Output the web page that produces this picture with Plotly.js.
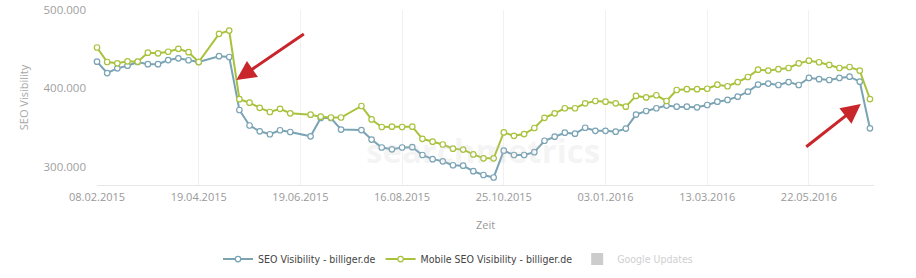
<!DOCTYPE html>
<html>
<head>
<meta charset="utf-8">
<script src="https://cdn.plot.ly/plotly-3.0.1.min.js"></script>
<style>
  html, body { margin: 0; padding: 0; background: #ffffff; }
  #chart { width: 916px; height: 278px; }
</style>
</head>
<body>
<div id="chart"></div>
<script>
// Week index (category position); indices 11, 20 and 25 have no data point
const weekIndex = [0,1,2,3,4,5,6,7,8,9,10,12,13,14,15,16,17,18,19,21,22,23,24,26,27,28,29,30,31,32,33,34,35,36,37,38,39,40,41,42,43,44,45,46,47,48,49,50,51,52,53,54,55,56,57,58,59,60,61,62,63,64,65,66,67,68,69,70,71,72,73,74,75,76];

// SEO Visibility - billiger.de (thousands)
const seoVisibility = [434,419.5,425.5,428.9,433.6,430.8,430.8,436.1,438.3,435.8,433.6,441,440,372.3,352.5,345.1,341.3,346.4,344.2,338.7,362.1,362.1,347.3,346.7,334.5,324.4,322.1,324.4,324.8,314.8,309.5,306.8,301.7,301.2,294.1,289.3,286.1,320.3,314.8,314.8,318.4,333,338.2,343.3,342,349.6,345.7,345.7,344.6,348.5,366.4,371,374.5,378,376.5,376.5,375.7,378.7,382.9,385.1,389.3,395.7,404.7,406,404.2,408,404.2,413.2,411.6,410.6,413.2,414.8,408.4,348.9];

// Mobile SEO Visibility - billiger.de (thousands)
const mobileSeoVisibility = [452.1,433.6,431.9,434.5,434,445.5,444.7,446.7,450.4,446.1,433.6,469.6,473.7,386.1,381.6,375.1,369.7,373.8,368.1,366.3,363.7,362.7,362.7,377.4,360.2,350.6,351,350.6,351,335.5,331.8,328.2,322.9,321.7,315.6,310.6,310.6,343.6,339.3,341.6,349.3,362.3,368.1,374.5,374.5,380.8,383.8,382.9,380.8,376.5,390.3,388.3,391.1,383.8,397.8,398.9,398.9,399.4,404.6,402.6,408,414.4,423.8,422.7,424.4,425.9,431.9,435.3,433.3,429.8,425.9,427.2,422.5,386.3];

// Category tick labels (every 10th week)
const tickPositions = [0,10,20,30,40,50,60,70];
const tickLabels = ["08.02.2015","19.04.2015","19.06.2015","16.08.2015","25.10.2015","03.01.2016","13.03.2016","22.05.2016"];

const yTickVals = [300,400,500];
const yTickText = ["300.000","400.000","500.000"];

const blue = '#7aa3b4';
const green = '#a8c23c';

const traces = [
  {
    type: 'scatter', mode: 'lines+markers',
    name: 'SEO Visibility - billiger.de',
    x: weekIndex, y: seoVisibility,
    line: {color: blue, width: 2},
    marker: {symbol: 'circle', size: 5.5, color: '#ffffff', line: {color: blue, width: 1.2}},
    cliponaxis: false
  },
  {
    type: 'scatter', mode: 'lines+markers',
    name: 'Mobile SEO Visibility - billiger.de',
    x: weekIndex, y: mobileSeoVisibility,
    line: {color: green, width: 2},
    marker: {symbol: 'circle', size: 5.5, color: '#ffffff', line: {color: green, width: 1.2}},
    cliponaxis: false
  },
  {
    type: 'bar',
    name: '<span style="color:#d0d0d0">Google Updates</span>',
    x: [null], y: [null],
    marker: {color: '#cccccc'}
  }
];

const layout = {
  width: 916, height: 278,
  margin: {l: 97, r: 42, t: 10, b: 93, pad: 0},
  paper_bgcolor: '#ffffff', plot_bgcolor: '#ffffff',
  font: {family: '"Open Sans", "DejaVu Sans", sans-serif', size: 11, color: '#999999'},
  showlegend: true,
  legend: {
    orientation: 'h', xref: 'container', yref: 'container',
    x: 0.5, xanchor: 'center', y: 0.068, yanchor: 'middle',
    font: {size: 10.5, color: '#444444', family: '"Liberation Sans Narrow", "DejaVu Sans Condensed", "Liberation Sans", sans-serif'},
    itemwidth: 30
  },
  xaxis: {
    type: 'linear', range: [0, 76.4],
    tickmode: 'array', tickvals: tickPositions, ticktext: tickLabels,
    showgrid: true, gridcolor: '#f1f1f1', gridwidth: 1,
    zeroline: false, showline: true, linecolor: '#e6e6e6', linewidth: 1,
    ticks: '', ticklabelstandoff: 2, tickfont: {size: 11, color: '#999999'},
    title: {text: 'Zeit', font: {size: 11, color: '#999999'}, standoff: 18},
    fixedrange: true
  },
  yaxis: {
    range: [276.5, 500],
    tickmode: 'array', tickvals: yTickVals, ticktext: yTickText,
    showgrid: false, zeroline: false, showline: false,
    ticks: '', ticklabelstandoff: 10,
    tickfont: {size: 11.5, color: '#a0a0a0'},
    title: {text: 'SEO Visibility', font: {size: 11, color: '#a8a8a8'}, standoff: 12},
    fixedrange: true
  },
  annotations: [
    {
      text: 'searchmetrics', xref: 'paper', yref: 'paper',
      x: 0.497, y: 0.2, xanchor: 'center', yanchor: 'middle',
      showarrow: false,
      font: {size: 33, color: 'rgba(200,200,200,0.2)', family: '"Open Sans", sans-serif', weight: 700}
    },
    {
      text: '', xref: 'x', yref: 'y', x: 13.7, y: 410.6,
      ax: 69, ay: -47, showarrow: true,
      arrowhead: 2, arrowsize: 1.3, arrowwidth: 3, arrowcolor: '#c8262b'
    },
    {
      text: '', xref: 'x', yref: 'y', x: 75.1, y: 380,
      ax: -56, ay: 44, showarrow: true,
      arrowhead: 2, arrowsize: 1.3, arrowwidth: 3, arrowcolor: '#c8262b'
    }
  ]
};

Plotly.newPlot('chart', traces, layout, {displayModeBar: false, staticPlot: true});
</script>
</body>
</html>
